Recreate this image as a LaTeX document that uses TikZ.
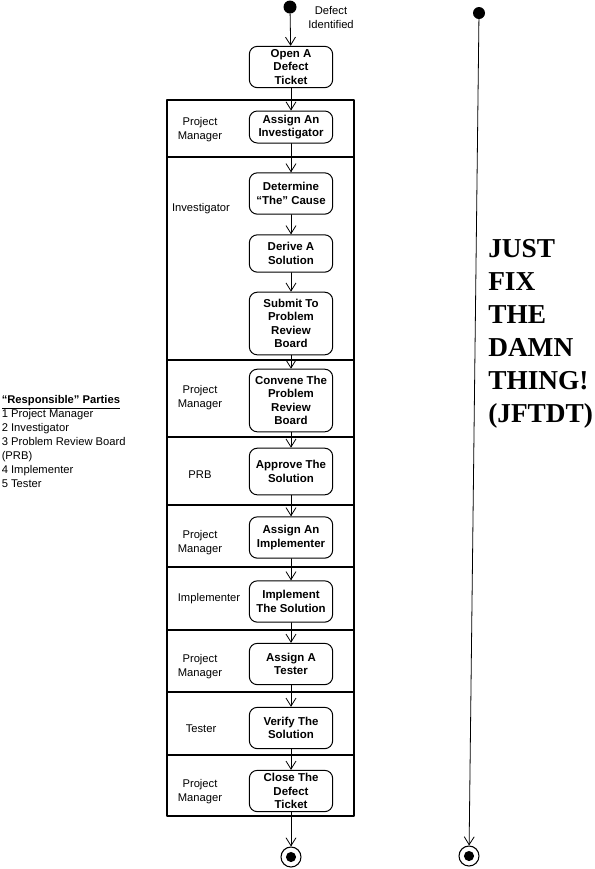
\documentclass[tikz,border=0pt]{standalone}
\usepackage{fontspec}
\setmainfont{Liberation Sans}
\newfontfamily\jfserif{Liberation Serif}
\usetikzlibrary{arrows.meta}

\begin{document}
\begin{tikzpicture}[x=0.75pt,y=-0.75pt,line cap=round,line join=round,
  >={Straight Barb[length=6pt,width=7.5pt]},
  act/.style={draw,line width=0.75pt,rounded corners=6pt,minimum width=62.5pt,
    minimum height=#1,inner sep=1pt,align=center,
    font=\fontsize{8.6}{10}\selectfont\bfseries},
  act/.default=31pt,
  lane/.style={align=center,inner sep=0pt,font=\fontsize{8.4}{10.5}\selectfont},
  dot/.style={circle,fill,inner sep=0pt,minimum size=9.75pt},
  enddot/.style={circle,draw,line width=0.8pt,inner sep=0pt,minimum size=15pt,
    path picture={\fill (path picture bounding box.center) circle (3.8pt);}},
  flow/.style={line width=0.6pt,->}]
  \useasboundingbox (0,0) rectangle (595,869);
  \draw[line width=0.8pt] (167,100) rectangle (354,816);
  \foreach \y in {157,360,437,505,567,630,692,755} {
    \draw[line width=1pt] (167,\y) -- (354,\y);
  }
  \node[dot] (start) at (290,7) {};
  \node[lane] (defect) at (331,17) {Defect\\Identified};
  \node[act] (open) at (291,67) {Open A\\Defect\\Ticket};
  \node[act=24pt] (assinv) at (291,127) {Assign An\\Investigator};
  \node[act] (cause) at (291,193.5) {Determine\\“The” Cause};
  \node[act=28pt] (derive) at (291,253.5) {Derive A\\Solution};
  \node[act=47pt] (submit) at (291,323.5) {Submit To\\Problem\\Review\\Board};
  \node[act=47pt] (convene) at (291,400.5) {Convene The\\Problem\\Review\\Board};
  \node[act=35pt] (approve) at (291,471.5) {Approve The\\Solution};
  \node[act] (assimp) at (291,537.5) {Assign An\\Implementer};
  \node[act] (implement) at (291,601.5) {Implement\\The Solution};
  \node[act] (asstest) at (291,664) {Assign A\\Tester};
  \node[act] (verify) at (291,728) {Verify The\\Solution};
  \node[act] (close) at (291,791) {Close The\\Defect\\Ticket};
  \node[enddot] (stop) at (291,857) {};
  \node[lane] (pm1) at (200,130) {Project\\Manager};
  \node[lane] (inv) at (201,209) {Investigator};
  \node[lane] (pm2) at (200,397.5) {Project\\Manager};
  \node[lane] (prb) at (200,475) {PRB};
  \node[lane] (pm3) at (200,542.5) {Project\\Manager};
  \node[lane] (impl) at (209,599) {Implementer};
  \node[lane] (pm4) at (200,667) {Project\\Manager};
  \node[lane] (tester) at (201,729) {Tester};
  \node[lane] (pm5) at (200,792) {Project\\Manager};
  \foreach \a/\b in {start/open,open/assinv,assinv/cause,cause/derive,derive/submit,
    submit/convene,convene/approve,approve/assimp,assimp/implement,
    implement/asstest,asstest/verify,verify/close,close/stop} {
    \draw[flow] (\a) -- (\b);
  }
  \node[lane,align=left,anchor=north west] (parties) at (1.5,395.5)
    {\underline{\textbf{“Responsible” Parties}}\\1 Project Manager\\2 Investigator\\
     3 Problem Review Board\\(PRB)\\4 Implementer\\5 Tester};
  \node[dot,minimum size=9pt] (jstart) at (479,13) {};
  \node[enddot] (jstop) at (469,856) {};
  \draw[flow] (jstart) -- (jstop);
  \node[align=left,anchor=north west,inner sep=0pt,
    font=\jfserif\bfseries\fontsize{20.5}{24.75}\selectfont] (jftdt) at (488,239)
    {JUST\\FIX\\THE\\DAMN\\THING!\\(JFTDT)};
\end{tikzpicture}
\end{document}
